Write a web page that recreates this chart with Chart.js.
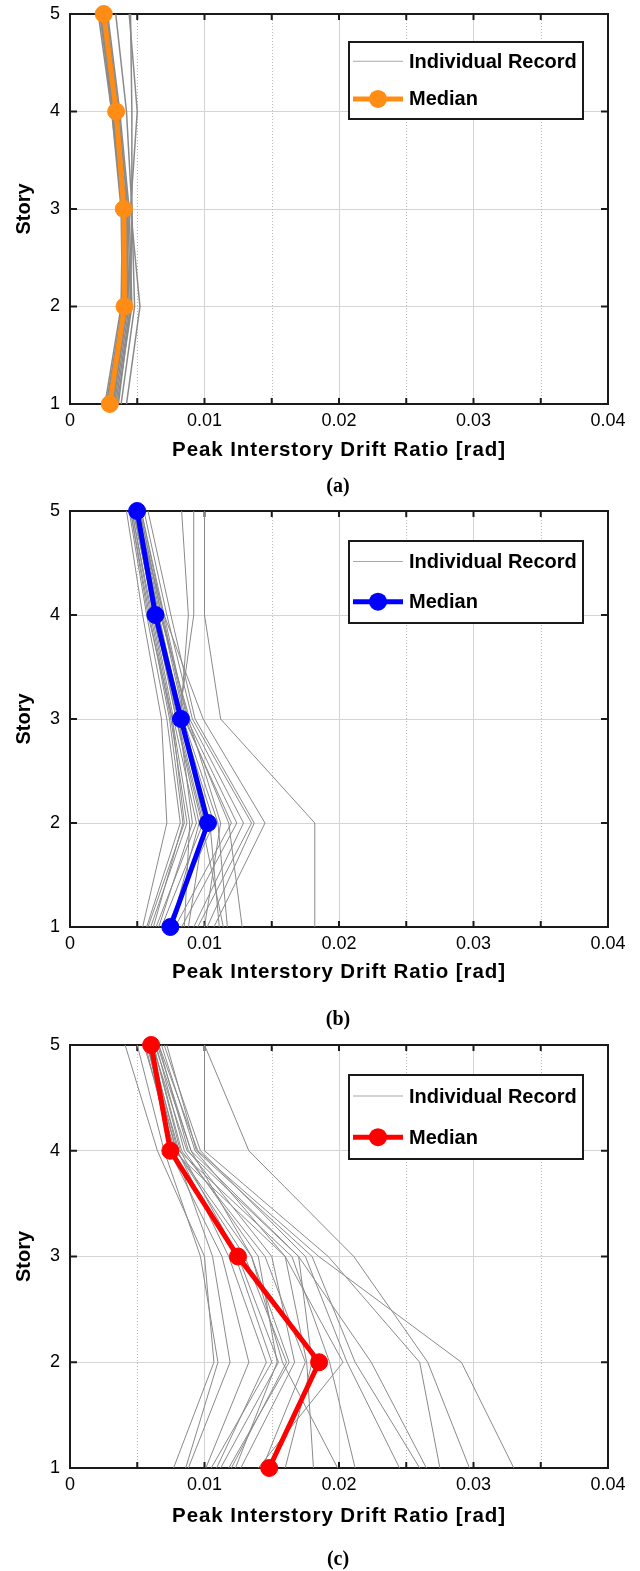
<!DOCTYPE html>
<html lang="en">
<head>
<meta charset="UTF-8" />
<title>Peak Interstory Drift Ratio</title>
<script src="https://cdn.jsdelivr.net/npm/chart.js"></script>
<style>
  html, body { margin: 0; padding: 0; background: #fff; }
  body { width: 640px; height: 1571px; position: relative; overflow: hidden; }
  canvas { position: absolute; left: 0; }
</style>
</head>
<body>
<canvas id="chartA" width="640" height="500" style="top:0px"></canvas>
<canvas id="chartB" width="640" height="530" style="top:500px"></canvas>
<canvas id="chartC" width="640" height="541" style="top:1030px"></canvas>
<script>
const stories = [1, 2, 3, 4, 5];
const xLabels = ["0", "0.01", "0.02", "0.03", "0.04"];

// (a) values per story 1..5
const medianA = [0.00296, 0.00405, 0.0040, 0.00343, 0.00251];
const recordsA = [
  [0.0026, 0.0038, 0.0039, 0.0031, 0.0021],
  [0.0027, 0.0039, 0.0040, 0.0032, 0.0022],
  [0.0028, 0.0040, 0.0040, 0.0033, 0.0023],
  [0.0029, 0.0041, 0.0041, 0.0033, 0.0024],
  [0.0030, 0.0041, 0.0040, 0.0034, 0.0025],
  [0.0031, 0.0042, 0.0042, 0.0034, 0.0025],
  [0.0032, 0.0043, 0.0041, 0.0035, 0.0026],
  [0.0033, 0.0044, 0.0042, 0.0033, 0.0026],
  [0.0034, 0.0045, 0.0043, 0.0036, 0.0027],
  [0.0035, 0.0046, 0.0044, 0.0037, 0.0028],
  [0.0028, 0.0039, 0.0038, 0.0031, 0.0023],
  [0.0030, 0.0040, 0.0039, 0.0032, 0.0024],
  [0.0036, 0.0045, 0.0046, 0.0042, 0.0034],
  [0.0042, 0.0052, 0.0045, 0.0050, 0.0044],
  [0.0038, 0.0048, 0.0046, 0.0046, 0.0045],
  [0.0032, 0.0042, 0.0043, 0.0036, 0.0027]
];

// (b)
const medianB = [0.00746, 0.01026, 0.00825, 0.00635, 0.00499];
const recordsB = [
  [0.0182, 0.0182, 0.0112, 0.0100, 0.0100],
  [0.0054, 0.0072, 0.0068, 0.0054, 0.0042],
  [0.0057, 0.0082, 0.0072, 0.0057, 0.0044],
  [0.0060, 0.0087, 0.0075, 0.0060, 0.0046],
  [0.0064, 0.0094, 0.0077, 0.0062, 0.0048],
  [0.0068, 0.0099, 0.0080, 0.0064, 0.0049],
  [0.0072, 0.0107, 0.0083, 0.0066, 0.0050],
  [0.0078, 0.0120, 0.0085, 0.0068, 0.0052],
  [0.0083, 0.0124, 0.0087, 0.0070, 0.0053],
  [0.0092, 0.0129, 0.0089, 0.0067, 0.0051],
  [0.0095, 0.0135, 0.0091, 0.0072, 0.0055],
  [0.0102, 0.0137, 0.0093, 0.0075, 0.0058],
  [0.0107, 0.0145, 0.0099, 0.0070, 0.0049],
  [0.0111, 0.0104, 0.0082, 0.0088, 0.0083],
  [0.0114, 0.0098, 0.0079, 0.0063, 0.0047],
  [0.0117, 0.0110, 0.0084, 0.0065, 0.0051],
  [0.0128, 0.0118, 0.0086, 0.0069, 0.0053],
  [0.0085, 0.0089, 0.0076, 0.0061, 0.0046],
  [0.0062, 0.0084, 0.0074, 0.0059, 0.0045],
  [0.0066, 0.0091, 0.0081, 0.0092, 0.0092],
  [0.0058, 0.0085, 0.0076, 0.0058, 0.0045],
  [0.0075, 0.0096, 0.0079, 0.0063, 0.0047],
  [0.0088, 0.0100, 0.0082, 0.0066, 0.0050],
  [0.0100, 0.0112, 0.0088, 0.0068, 0.0052]
];

// (c)
const medianC = [0.01481, 0.01852, 0.01249, 0.00746, 0.00603];
const recordsC = [
  [0.0077, 0.0107, 0.0100, 0.0065, 0.0041],
  [0.0086, 0.0110, 0.0097, 0.0070, 0.0050],
  [0.0088, 0.0119, 0.0106, 0.0078, 0.0055],
  [0.0101, 0.0133, 0.0113, 0.0074, 0.0058],
  [0.0109, 0.0146, 0.0118, 0.0080, 0.0060],
  [0.0112, 0.0155, 0.0125, 0.0082, 0.0062],
  [0.0120, 0.0161, 0.0130, 0.0079, 0.0057],
  [0.0123, 0.0154, 0.0140, 0.0085, 0.0064],
  [0.0127, 0.0167, 0.0150, 0.0088, 0.0066],
  [0.0181, 0.0176, 0.0160, 0.0093, 0.0068],
  [0.0199, 0.0158, 0.0135, 0.0090, 0.0063],
  [0.0212, 0.0193, 0.0165, 0.0081, 0.0059],
  [0.0245, 0.0206, 0.0175, 0.0097, 0.0070],
  [0.0260, 0.0212, 0.0180, 0.0094, 0.0072],
  [0.0265, 0.0224, 0.0170, 0.0087, 0.0061],
  [0.0275, 0.0260, 0.0192, 0.0100, 0.0100],
  [0.0297, 0.0266, 0.0211, 0.0133, 0.0100],
  [0.0330, 0.0291, 0.0185, 0.0095, 0.0066],
  [0.0143, 0.0175, 0.0145, 0.0083, 0.0062],
  [0.0140, 0.0203, 0.0160, 0.0077, 0.0058],
  [0.0105, 0.0150, 0.0123, 0.0076, 0.0056],
  [0.0118, 0.0163, 0.0135, 0.0079, 0.0059],
  [0.0160, 0.0180, 0.0170, 0.0090, 0.0065]
];

const BLACK = "#1a1a1a";
const GRID = "#d4d4d4";

// frame, dotted minor grid, inward ticks, legend, x title, caption
const panelPlugin = {
  id: "panel",
  beforeDatasetsDraw(chart) {
    const { ctx, chartArea: a, scales: { x, y } } = chart;
    const line = (x1, y1, x2, y2) => { ctx.beginPath(); ctx.moveTo(x1, y1); ctx.lineTo(x2, y2); ctx.stroke(); };
    ctx.save();
    ctx.strokeStyle = "#b8b8b8";
    ctx.lineWidth = 1;
    ctx.setLineDash([1, 2]);
    x.ticks.forEach((t, i) => {
      if (i % 2 === 1) {
        const px = Math.round(x.getPixelForValue(t.value)) + 0.5;
        line(px, a.top, px, a.bottom);
      }
    });
    ctx.setLineDash([]);
    ctx.strokeStyle = BLACK;
    ctx.lineWidth = 2;
    ctx.strokeRect(a.left, a.top, a.right - a.left, a.bottom - a.top);
    x.ticks.forEach((t) => {
      const px = x.getPixelForValue(t.value);
      line(px, a.bottom, px, a.bottom - 6);
      line(px, a.top, px, a.top + 6);
    });
    y.ticks.forEach((t) => {
      const py = y.getPixelForValue(t.value);
      line(a.left, py, a.left + 7, py);
      line(a.right, py, a.right - 7, py);
    });
    ctx.restore();
  },
  afterDatasetsDraw(chart) {
    const { ctx, chartArea: a } = chart;
    const rec = chart.data.datasets[0];
    const med = chart.data.datasets[chart.data.datasets.length - 1];
    const h = a.bottom - a.top;
    const bx = a.left + 279, bw = 234;
    const by = Math.round(a.top + 0.072 * h), bh = Math.round(0.198 * h);
    ctx.save();
    ctx.fillStyle = "#fff";
    ctx.fillRect(bx, by, bw, bh);
    ctx.strokeStyle = BLACK;
    ctx.lineWidth = 2;
    ctx.strokeRect(bx, by, bw, bh);
    const y1 = by + 0.25 * bh, y2 = by + 0.74 * bh;
    ctx.strokeStyle = "#a8a8a8";
    ctx.lineWidth = 1.2;
    ctx.beginPath(); ctx.moveTo(a.left + 283, y1); ctx.lineTo(a.left + 333, y1); ctx.stroke();
    ctx.strokeStyle = med.borderColor;
    ctx.lineWidth = med.borderWidth;
    ctx.beginPath(); ctx.moveTo(a.left + 283, y2); ctx.lineTo(a.left + 333, y2); ctx.stroke();
    ctx.fillStyle = med.backgroundColor;
    ctx.beginPath(); ctx.arc(a.left + 308, y2, med.pointRadius + 0.5, 0, Math.PI * 2); ctx.fill();
    ctx.fillStyle = "#000";
    ctx.font = 'bold 20px "Liberation Sans", Arial, sans-serif';
    ctx.textBaseline = "middle";
    ctx.textAlign = "left";
    ctx.fillText(rec.label, a.left + 339, y1 + 1);
    ctx.fillText(med.label, a.left + 339, y2 + 1);
    ctx.restore();
  },
  afterDraw(chart, args, opts) {
    const { ctx, chartArea: a } = chart;
    const cx = (a.left + a.right) / 2;
    ctx.save();
    ctx.fillStyle = "#000";
    ctx.textAlign = "center";
    ctx.textBaseline = "middle";
    ctx.font = 'bold 20.5px "Liberation Sans", Arial, sans-serif';
    ctx.letterSpacing = "0.9px";
    ctx.fillText("Peak Interstory Drift Ratio [rad]", cx, a.bottom + opts.titleOffset);
    ctx.letterSpacing = "0px";
    ctx.font = 'bold 20px "Liberation Serif", "Times New Roman", serif';
    ctx.fillText(opts.caption, cx - 1, a.bottom + opts.captionOffset);
    ctx.restore();
  }
};

const noPad = (s) => {
  s.paddingTop = 0;
  s.paddingBottom = 0;
  s.paddingLeft = 0;
  s.paddingRight = 0;
};

function makePanel(id, records, median, color, recWidth, padTop, axisHeight, titleOffset, captionOffset, caption) {
  const datasets = records.map((r) => ({
    label: "Individual Record",
    data: stories.map((s, i) => ({ x: r[i], y: s })),
    borderColor: "#8a8a8a",
    borderWidth: recWidth,
    pointRadius: 0,
    tension: 0,
    order: 1
  }));
  datasets.push({
    label: "Median",
    data: stories.map((s, i) => ({ x: median[i], y: s })),
    borderColor: color,
    backgroundColor: color,
    borderWidth: 5,
    pointRadius: 8.5,
    pointBorderWidth: 1,
    pointBorderColor: color,
    tension: 0,
    clip: false,
    order: 0
  });
  new Chart(document.getElementById(id), {
    type: "line",
    data: { datasets },
    options: {
      responsive: false,
      animation: false,
      layout: { padding: { top: padTop, right: 32, left: 0, bottom: 0 } },
      scales: {
        x: {
          type: "linear",
          min: 0,
          max: 0.04,
          afterFit: (s) => { s.height = axisHeight; noPad(s); },
          ticks: {
            stepSize: 0.005,
            autoSkip: false,
            maxRotation: 0,
            padding: 6,
            color: "#000",
            font: { family: '"Liberation Sans", Arial, sans-serif', size: 18 },
            callback: (v, i) => (i % 2 === 0 ? xLabels[i / 2] : "")
          },
          grid: {
            drawTicks: false,
            color: (c) => (c.index % 2 === 0 ? GRID : "transparent"),
            lineWidth: 1
          },
          border: { display: false }
        },
        y: {
          type: "linear",
          min: 1,
          max: 5,
          afterFit: (s) => { s.width = 70; noPad(s); },
          ticks: {
            stepSize: 1,
            padding: 10,
            color: "#000",
            font: { family: '"Liberation Sans", Arial, sans-serif', size: 18 }
          },
          grid: { drawTicks: false, color: GRID, lineWidth: 1 },
          border: { display: false },
          title: {
            display: true,
            text: "Story",
            color: "#000",
            padding: { top: 12, bottom: 0 },
            font: { family: '"Liberation Sans", Arial, sans-serif', size: 20, weight: "bold" }
          }
        }
      },
      plugins: {
        legend: { display: false },
        tooltip: { enabled: false },
        panel: { titleOffset, captionOffset, caption }
      }
    },
    plugins: [panelPlugin]
  });
}

makePanel("chartA", recordsA, medianA, "#ff8c14", 1.5, 14, 96, 46, 83, "(a)");
makePanel("chartB", recordsB, medianB, "#0000ff", 1, 11, 103, 45, 93, "(b)");
makePanel("chartC", recordsC, medianC, "#ff0000", 1, 15, 103, 48, 92, "(c)");
</script>
</body>
</html>
